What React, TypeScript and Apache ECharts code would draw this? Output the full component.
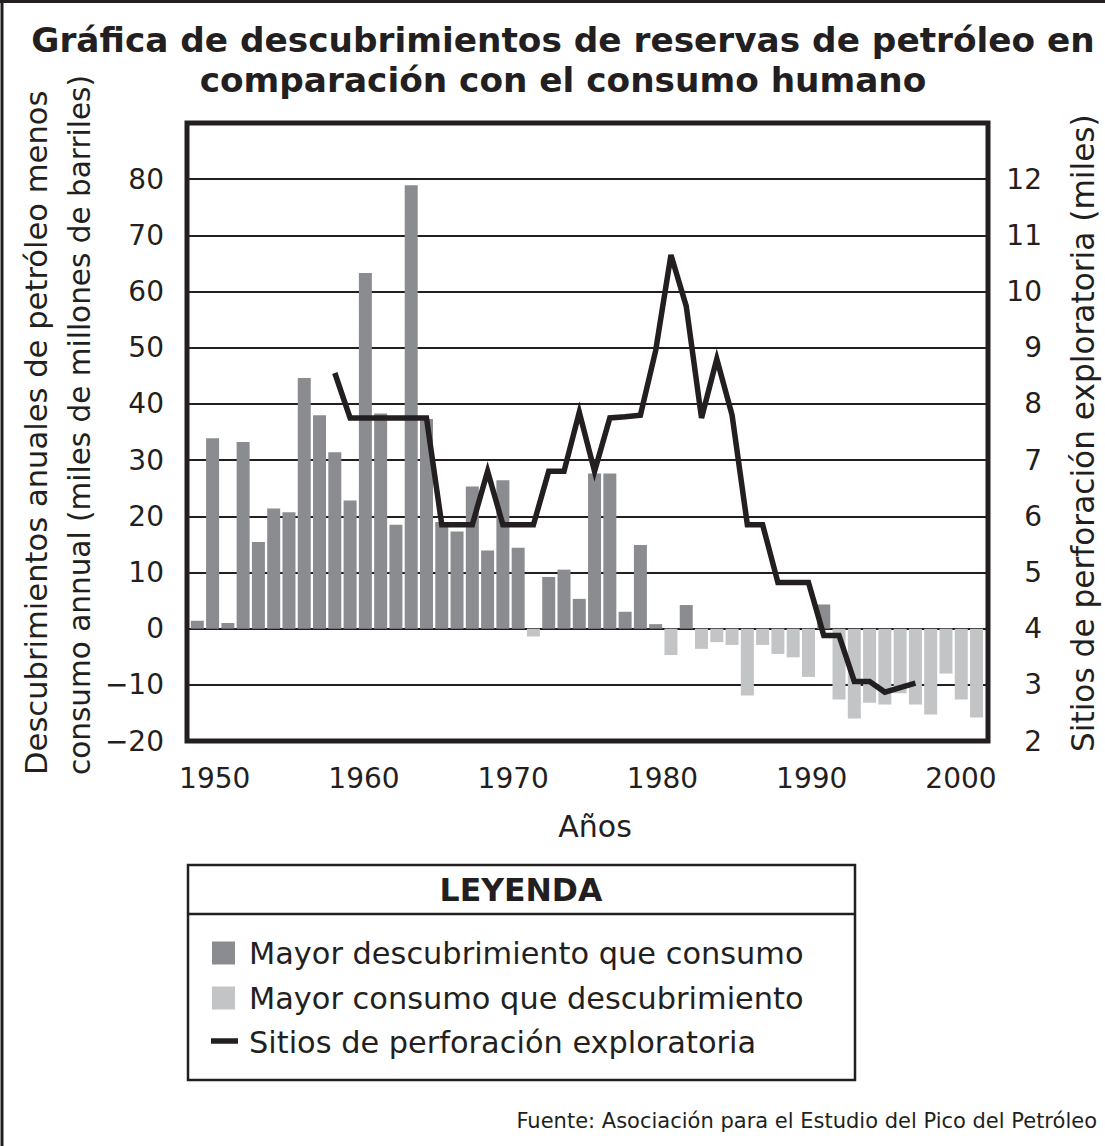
import React, { useEffect, useRef } from "react";
import * as echarts from "echarts";

// ---- Data ----
const barYears = [
  1949, 1950, 1951, 1952, 1953, 1954, 1955, 1956, 1957, 1958,
  1959, 1960, 1961, 1962, 1963, 1964, 1965, 1966, 1967, 1968,
  1969, 1970, 1971, 1972, 1973, 1974, 1975, 1976, 1977, 1978,
  1979, 1980, 1981, 1982, 1983, 1984, 1985, 1986, 1987, 1988,
  1989, 1990, 1991, 1992, 1993, 1994, 1995, 1996, 1997, 1998,
  1999, 2000,
];
// Annual discoveries minus annual consumption (thousand million barrels)
const discoveryMinusConsumption = [
  1.4, 33.9, 1.0, 33.2, 15.4, 21.4, 20.7, 44.6, 38.0, 31.4,
  22.8, 63.3, 38.3, 18.5, 78.9, 37.3, 19.0, 17.3, 25.3, 13.9,
  26.4, 14.4, -1.4, 9.2, 10.5, 5.3, 27.6, 27.6, 3.0, 14.9,
  0.8, -4.7, 4.2, -3.6, -2.4, -2.9, -11.9, -2.9, -4.5, -5.1,
  -8.6, 4.3, -12.6, -16.0, -13.2, -13.5, -11.5, -13.5, -15.3, -8.0,
  -12.6, -15.8,
];
// Exploratory drilling sites (thousands)
const drillYears = [
  1958, 1959, 1960, 1961, 1962, 1963, 1964, 1965, 1966, 1967,
  1968, 1969, 1970, 1971, 1972, 1973, 1974, 1975, 1976, 1977,
  1978, 1979, 1980, 1981, 1982, 1983, 1984, 1985, 1986, 1987,
  1988, 1989, 1990, 1991, 1992, 1993, 1994, 1995, 1996,
];
const drillSites = [
  8.55, 7.75, 7.75, 7.75, 7.75, 7.75, 7.75, 5.85, 5.85, 5.85,
  6.8, 5.85, 5.85, 5.85, 6.8, 6.8, 7.85, 6.8, 7.75, 7.77,
  7.8, 8.95, 10.65, 9.74, 7.75, 8.8, 7.8, 5.85, 5.85, 4.82,
  4.82, 4.82, 3.88, 3.88, 3.06, 3.06, 2.87, 2.95, 3.03,
];
const xTickYears = [1950, 1960, 1970, 1980, 1990, 2000];

const TITLE_1 = "Gráfica de descubrimientos de reservas de petróleo en";
const TITLE_2 = "comparación con el consumo humano";
const Y_LEFT_1 = "Descubrimientos anuales de petróleo menos";
const Y_LEFT_2 = "consumo annual (miles de millones de barriles)";
const Y_RIGHT = "Sitios de perforación exploratoria (miles)";
const X_NAME = "Años";
const LEGEND_TITLE = "LEYENDA";
const S_POS = "Mayor descubrimiento que consumo";
const S_NEG = "Mayor consumo que descubrimiento";
const S_LINE = "Sitios de perforación exploratoria";
const SOURCE = "Fuente: Asociación para el Estudio del Pico del Petróleo";

const INK = "#231f20";
const DARK = "#8b8c90";
const LIGHT = "#c3c4c6";
const FONT = "'DejaVu Sans', Verdana, sans-serif";

function txt(
  text: string,
  x: number,
  y: number,
  size: number,
  align: string,
  opts: any = {}
) {
  return {
    type: "text",
    x,
    y,
    rotation: opts.rotation || 0,
    z: 50,
    style: {
      text,
      fill: INK,
      fontSize: size,
      fontFamily: FONT,
      fontWeight: opts.bold ? "bold" : "normal",
      align,
      textAlign: align,
      verticalAlign: "middle",
      textVerticalAlign: "middle",
    },
  };
}

export default function App() {
  const ref = useRef<HTMLDivElement>(null);

  useEffect(() => {
    if (!ref.current) return;
    const chart = echarts.init(ref.current, null, { renderer: "svg" });

    const posData: any[] = [];
    const negData: any[] = [];
    barYears.forEach((yr, i) => {
      const v = discoveryMinusConsumption[i];
      if (v >= 0) posData.push([yr, v]);
      else negData.push([yr, v]);
    });
    const lineData = drillYears.map((yr, i) => [yr, drillSites[i]]);

    const labelStyle = { color: INK, fontSize: 28, fontFamily: FONT };

    const option: any = {
      animation: false,
      backgroundColor: "#ffffff",
      grid: {
        left: 187,
        top: 123,
        width: 801,
        height: 618,
        show: true,
        borderColor: INK,
        borderWidth: 5,
        backgroundColor: "transparent",
        containLabel: false,
        outerBoundsMode: "none",
      },
      xAxis: [
        {
          type: "value",
          min: 1948.326,
          max: 2000.75,
          show: false,
        },
        {
          type: "value",
          position: "bottom",
          min: 1948.144,
          max: 2001.81,
          axisLine: { show: false },
          axisTick: { show: false },
          splitLine: { show: false },
          axisLabel: {
            ...labelStyle,
            margin: 23,
            customValues: xTickYears,
            formatter: (v: number) => String(Math.round(v)),
          },
        },
      ],
      yAxis: [
        {
          type: "value",
          min: -20,
          max: 90,
          interval: 10,
          axisLine: { show: false },
          axisTick: { show: false },
          splitLine: { show: true, lineStyle: { color: INK, width: 2 } },
          axisLabel: {
            ...labelStyle,
            margin: 23,
            formatter: (v: number) =>
              v === 90 ? "" : String(v).replace("-", "\u2212"),
          },
        },
        {
          type: "value",
          position: "right",
          min: 2,
          max: 13,
          interval: 1,
          axisLine: { show: false },
          axisTick: { show: false },
          splitLine: { show: false },
          axisLabel: {
            ...labelStyle,
            margin: 54,
            align: "right",
            formatter: (v: number) => (v === 13 ? "" : String(v)),
          },
        },
      ],
      series: [
        {
          name: S_POS,
          type: "bar",
          xAxisIndex: 0,
          yAxisIndex: 0,
          data: posData,
          barWidth: 13,
          barGap: "-100%",
          itemStyle: { color: DARK },
          z: 2,
        },
        {
          name: S_NEG,
          type: "bar",
          xAxisIndex: 0,
          yAxisIndex: 0,
          data: negData,
          barWidth: 13,
          barGap: "-100%",
          itemStyle: { color: LIGHT },
          z: 2,
        },
        {
          name: S_LINE,
          type: "line",
          xAxisIndex: 0,
          yAxisIndex: 1,
          data: lineData,
          symbol: "none",
          lineStyle: {
            color: INK,
            width: 5.5,
            join: "miter",
            miterLimit: 10,
            cap: "butt",
          },
          z: 5,
        },
      ],
      graphic: [
        // outer frame (top & left edges)
        {
          type: "line",
          shape: { x1: 0, y1: 1.5, x2: 1105, y2: 1.5 },
          style: { stroke: INK, lineWidth: 3 },
        },
        {
          type: "line",
          shape: { x1: 2, y1: 0, x2: 2, y2: 1146 },
          style: { stroke: INK, lineWidth: 3 },
        },
        txt(TITLE_1, 563, 40, 34.3, "center", { bold: true }),
        txt(TITLE_2, 563, 80, 34.3, "center", { bold: true }),
        txt(Y_LEFT_1, 36, 775, 30.6, "left", { rotation: Math.PI / 2 }),
        txt(Y_LEFT_2, 80, 775, 29.5, "left", { rotation: Math.PI / 2 }),
        txt(Y_RIGHT, 1083, 752, 31.2, "left", { rotation: Math.PI / 2 }),
        txt(X_NAME, 595, 826, 30, "center"),
        // legend box
        {
          type: "rect",
          shape: { x: 188, y: 865, width: 667, height: 215 },
          style: { fill: "#ffffff", stroke: INK, lineWidth: 2.5 },
          z: 40,
        },
        {
          type: "line",
          shape: { x1: 188, y1: 914, x2: 855, y2: 914 },
          style: { stroke: INK, lineWidth: 2.5 },
          z: 41,
        },
        txt(LEGEND_TITLE, 521, 890, 31.5, "center", { bold: true }),
        {
          type: "rect",
          shape: { x: 212, y: 941.5, width: 23, height: 23 },
          style: { fill: DARK },
          z: 45,
        },
        {
          type: "rect",
          shape: { x: 212, y: 986.5, width: 23, height: 23 },
          style: { fill: LIGHT },
          z: 45,
        },
        {
          type: "line",
          shape: { x1: 211, y1: 1041, x2: 238, y2: 1041 },
          style: { stroke: INK, lineWidth: 5.5 },
          z: 45,
        },
        txt(S_POS, 249, 953, 30.4, "left"),
        txt(S_NEG, 249, 998, 30.4, "left"),
        txt(S_LINE, 249, 1042, 30.4, "left"),
        txt(SOURCE, 1097, 1121, 21, "right"),
      ],
    };

    chart.setOption(option);
    return () => chart.dispose();
  }, []);

  return (
    <div
      ref={ref}
      style={{
        position: "absolute",
        left: 0,
        top: 0,
        width: 1105,
        height: 1146,
        background: "#ffffff",
      }}
    />
  );
}
